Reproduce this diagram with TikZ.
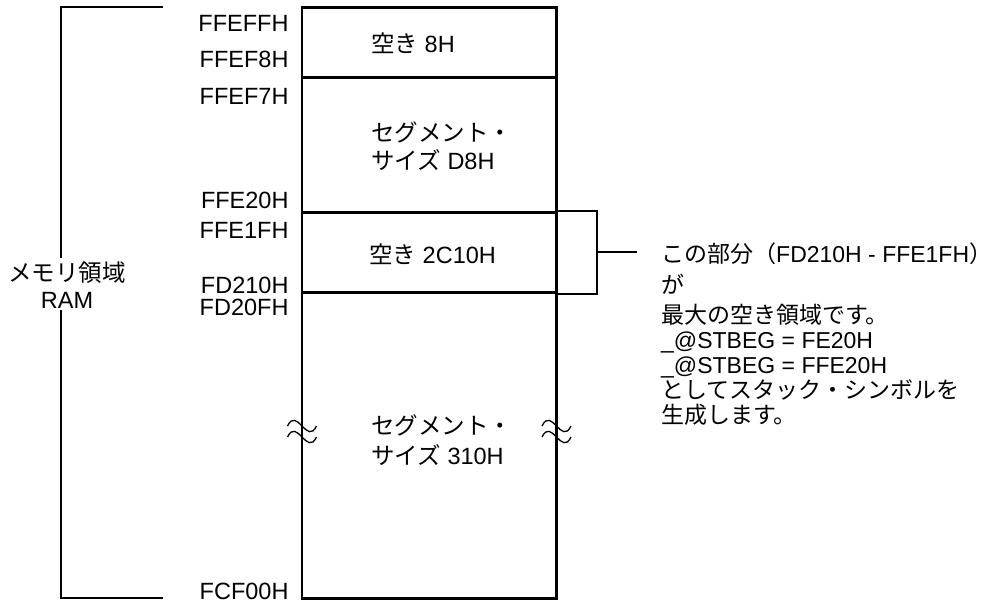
\documentclass[tikz,border=0pt]{standalone}
\usepackage{fontspec}
\setmainfont{Liberation Sans}
\newfontfamily\jp{Noto Sans CJK JP}
\usetikzlibrary{positioning}
\tikzstyle{area} = [rectangle, minimum width=254.5pt, draw=black, line width=2.7pt, inner sep=0pt]
\tikzstyle{addr} = [anchor=east, inner sep=0pt, font=\fontsize{23.5}{26}\selectfont]
\tikzstyle{txt} = [anchor=west, inner sep=0pt, align=left, font=\fontsize{23.5}{28}\selectfont]
\tikzstyle{bracket} = [draw=black, line width=2pt]
\tikzstyle{wave} = [draw=black, line width=1.3pt]

\begin{document}
\begin{tikzpicture}[x=1pt, y=-1pt]
\useasboundingbox (0,0) rectangle (992,604);

% memory areas
\node (free8) [area, minimum height=70.2pt] at (429.25,42.6) {};
\node (seg1) [area, minimum height=134.6pt] at (429.25,145) {};
\node (free2) [area, minimum height=80.2pt] at (429.25,252.4) {};
\node (seg2) [area, minimum height=305.8pt] at (429.25,445.4) {};

\node (t8) [txt] at (371,43) {{\jp 空き} 8H};
\node (tseg1) [txt] at (371,146) {{\jp セグメント・}\\{\jp サイズ} D8H};
\node (t2c) [txt] at (369,254) {{\jp 空き} 2C10H};
\node (tseg2) [txt] at (371,440) {{\jp セグメント・}\\[2pt]{\jp サイズ} 310H};

% addresses
\foreach \y/\a in {23.3/FFEFFH, 59.7/FFEF8H, 96.7/FFEF7H, 200/FFE20H,
                   230/FFE1FH, 285/FD210H, 307.5/FD20FH, 591/FCF00H}
  \node (a\a) [addr] at (288.7,\y) {\a};

% omitted part
\foreach \wx in {302,556.5}
  \foreach \wy in {426,437}
    \draw[wave] (\wx-14.5,\wy) .. controls (\wx-5,\wy-20) and (\wx+5,\wy+20) .. (\wx+14.5,\wy);

% memory area RAM
\node (ram) [txt, anchor=center, align=center, font=\fontsize{23.5}{26.5}\selectfont] at (67,285) {{\jp メモリ領域}\\RAM};
\coordinate (lt) at (162.5,7.5);
\coordinate (lb) at (163,598.3);
\coordinate (ramup) at (61,258);
\coordinate (ramdn) at (61,310);
\draw[bracket] (lt) -| (ramup);
\draw[bracket] (ramdn) |- (lb);

% largest free part
\coordinate (brk) at (597,252);
\coordinate (tip) at (637,252);
\draw[bracket] (free2.north east) -| (brk) |- (free2.south east);
\draw[bracket] (brk) -- (tip);
\node (note) [txt, anchor=north west, font=\fontsize{23}{25}\selectfont] at (661,243) {%
{\jp この部分（}FD210H - FFE1FH{\jp ）}\\[5.5pt]
{\jp が}\\[5.5pt]
{\jp 最大の空き領域です。}\\
\_@STBEG = FE20H\\
\_@STBEG = FFE20H\\
{\jp としてスタック・シンボルを}\\
{\jp 生成します。}};
\end{tikzpicture}
\end{document}
